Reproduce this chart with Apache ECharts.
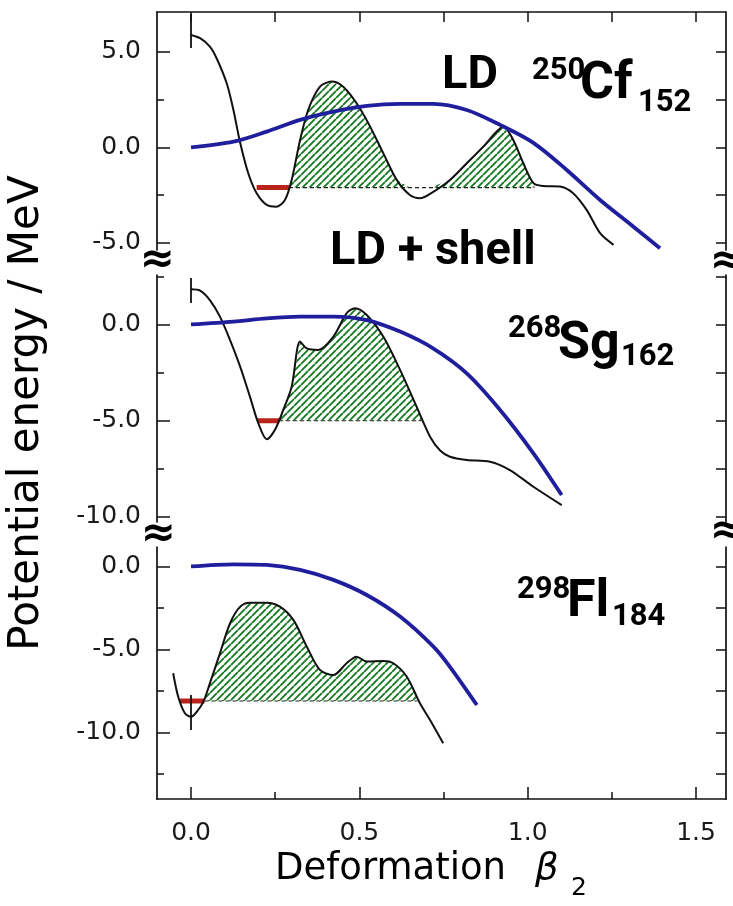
<!DOCTYPE html>
<html><head><meta charset="utf-8">
<script src="https://cdn.jsdelivr.net/npm/echarts@6/dist/echarts.min.js"></script>
<style>html,body{margin:0;padding:0;background:#fff}#c{width:733px;height:906px}</style>
</head><body><div id="c"></div>
<script>
// ---------------- DATA ----------------
// 250Cf152
const cfShellX = [0.0, 0.027, 0.056, 0.076, 0.106, 0.126, 0.146, 0.170, 0.195, 0.225, 0.254, 0.279, 0.299, 0.324, 0.348, 0.383, 0.418, 0.452, 0.492, 0.532, 0.571, 0.611, 0.650, 0.680, 0.710, 0.769, 0.819, 0.868, 0.908, 0.928, 0.957, 0.987, 1.017, 1.046, 1.096, 1.135, 1.175, 1.215, 1.255];
const cfShellE = [5.89, 5.72, 5.28, 4.67, 3.36, 1.96, 0.24, -1.35, -2.40, -3.01, -3.10, -2.75, -1.70, 0.39, 1.96, 3.18, 3.45, 3.18, 2.31, 1.09, -0.30, -1.70, -2.49, -2.66, -2.43, -1.70, -0.83, 0.04, 0.83, 1.09, 0.39, -0.83, -1.87, -2.02, -2.05, -2.40, -3.27, -4.49, -5.10];
const cfLdX = [0, 0.126, 0.225, 0.324, 0.423, 0.522, 0.621, 0.720, 0.819, 0.918, 1.017, 1.116, 1.215, 1.314, 1.393];
const cfLdE = [0, 0.30, 0.83, 1.44, 1.87, 2.17, 2.28, 2.28, 1.96, 1.18, 0.24, -1.18, -2.75, -4.15, -5.28];
const cfGround = -2.1, cfWell = [0.195, 0.291], cfBarrierEnd = 1.02, cfMark = [5.2, 7.0];

// 268Sg162
const sgShellX = [0, 0.027, 0.056, 0.086, 0.116, 0.146, 0.175, 0.200, 0.225, 0.249, 0.274, 0.299, 0.324, 0.344, 0.378, 0.423, 0.462, 0.487, 0.522, 0.571, 0.621, 0.670, 0.710, 0.740, 0.769, 0.819, 0.888, 0.947, 1.017, 1.101];
const sgShellE = [1.83, 1.76, 1.27, 0.41, -0.81, -2.19, -3.75, -5.13, -5.96, -5.48, -4.44, -3.23, -0.89, -1.24, -1.32, -0.63, 0.58, 0.84, 0.49, -0.63, -2.36, -4.27, -5.83, -6.55, -6.87, -7.04, -7.13, -7.56, -8.43, -9.38];
const sgLdX = [0, 0.126, 0.225, 0.324, 0.423, 0.522, 0.621, 0.719, 0.819, 0.918, 1.017, 1.101];
const sgLdE = [0, 0.15, 0.32, 0.41, 0.41, 0.23, -0.37, -1.24, -2.54, -4.44, -6.69, -8.86];
const sgGround = -5.0, sgWell = [0.196, 0.262], sgBarrierEnd = 0.685, sgMark = [1.12, 2.42];

// 298Fl184
const flShellX = [-0.053, -0.038, -0.018, 0.0, 0.017, 0.037, 0.056, 0.086, 0.116, 0.146, 0.175, 0.225, 0.264, 0.304, 0.344, 0.383, 0.423, 0.462, 0.492, 0.522, 0.571, 0.601, 0.641, 0.680, 0.710, 0.749];
const flShellE = [-6.43, -7.84, -8.84, -9.05, -8.75, -8.14, -7.04, -5.23, -3.42, -2.42, -2.18, -2.18, -2.42, -3.22, -4.83, -6.23, -6.54, -5.83, -5.43, -5.73, -5.69, -5.83, -6.64, -8.24, -9.25, -10.65];
const flLdX = [0, 0.126, 0.225, 0.324, 0.423, 0.522, 0.621, 0.720, 0.769, 0.849];
const flLdE = [0, 0.13, 0.09, -0.21, -0.81, -1.72, -3.02, -4.83, -6.04, -8.34];
const flGround = -8.1, flWell = [-0.033, 0.040], flBarrierEnd = 0.672, flMark = [-9.85, -7.74];

// axes / ticks
const xRange = [-0.101, 1.589];
const xMajor = [0, 0.5, 1.0, 1.5];
const xMinor = [0.25, 0.75, 1.25];
const xAll = [0, 0.25, 0.5, 0.75, 1.0, 1.25, 1.5];
const cfRange = [-5.37, 7.09], cfMajor = [-5, 0, 5], cfMinor = [-2.5, 2.5];
const sgRange = [-10.26, 2.57], sgMajor = [-10, -5, 0], sgMinor = [-7.5, -2.5, 2.5];
const flRange = [-14.0, 1.17], flMajor = [-10, -5, 0], flMinor = [-12.5, -7.5, -2.5];

// ---------------- HELPERS ----------------
const zip = (xs, ys) => xs.map((x, i) => [x, ys[i]]);
function interp(xs, ys, x) {
  for (let i = 0; i < xs.length - 1; i++) {
    if (x >= xs[i] && x <= xs[i + 1]) return ys[i] + (ys[i + 1] - ys[i]) * (x - xs[i]) / (xs[i + 1] - xs[i]);
  }
  return ys[ys.length - 1];
}
function hatchPoly(xs, ys, level, from, to) {
  const pts = [[from, level], [from, Math.max(level, interp(xs, ys, from))]];
  xs.forEach((x, i) => { if (x > from && x < to) pts.push([x, Math.max(level, ys[i])]); });
  pts.push([to, Math.max(level, interp(xs, ys, to))]);
  pts.push([to, level]);
  return pts;
}
function makeHatch() {
  const s = 7, c = document.createElement('canvas');
  c.width = s; c.height = s;
  const g = c.getContext('2d');
  g.strokeStyle = '#197a22'; g.lineWidth = 1.9;
  g.beginPath();
  [-s, 0, s].forEach(k => { g.moveTo(k, s); g.lineTo(k + s, 0); });
  g.stroke();
  return c;
}
const hatchPattern = { image: makeHatch(), repeat: 'repeat' };

const AX = '#111';
const tickFont = { fontFamily: 'DejaVu Sans', fontSize: 25, color: '#1a1a1a' };

const grids = [
  { left: 157, right: 7, top: 12, height: 238 },
  { left: 157, right: 7, top: 275, height: 247 },
  { left: 157, right: 7, top: 547, height: 252 }
];

function xAx(grid, opts) {
  return Object.assign({
    type: 'value', gridIndex: grid, min: xRange[0], max: xRange[1],
    splitLine: { show: false },
    axisLine: { show: true, onZero: false, lineStyle: { color: AX, width: 1.7 } },
    axisLabel: { show: false },
    axisTick: { show: false }
  }, opts);
}
const xAxes = [
  xAx(0, { position: 'top', axisTick: { show: true, inside: true, length: 10, customValues: xAll, lineStyle: { color: AX, width: 1.5 } } }),
  xAx(1, { show: false }),
  xAx(2, { position: 'bottom',
    axisTick: { show: true, inside: true, length: 12, customValues: xMajor, lineStyle: { color: AX, width: 1.5 } },
    axisLabel: Object.assign({ show: true, margin: 22, customValues: xMajor, formatter: v => v.toFixed(1) }, tickFont) }),
  xAx(2, { position: 'bottom', axisLine: { show: false, onZero: false },
    axisTick: { show: true, inside: true, length: 7, customValues: xMinor, lineStyle: { color: AX, width: 1.5 } } })
];

const yAxes = [];
[[cfRange, cfMajor, cfMinor], [sgRange, sgMajor, sgMinor], [flRange, flMajor, flMinor]].forEach((p, gi) => {
  const [r, maj, min] = p;
  const base = { type: 'value', gridIndex: gi, min: r[0], max: r[1], splitLine: { show: false } };
  yAxes.push(Object.assign({}, base, { position: 'left',
    axisLine: { show: true, onZero: false, lineStyle: { color: AX, width: 1.7 } },
    axisTick: { show: true, inside: true, length: 13, customValues: maj, lineStyle: { color: AX, width: 1.5 } },
    axisLabel: Object.assign({ show: true, margin: 16, customValues: maj, formatter: v => v.toFixed(1) }, tickFont) }));
  yAxes.push(Object.assign({}, base, { position: 'left',
    axisLine: { show: false, onZero: false },
    axisTick: { show: true, inside: true, length: 7, customValues: min, lineStyle: { color: AX, width: 1.5 } },
    axisLabel: { show: false } }));
  yAxes.push(Object.assign({}, base, { position: 'right',
    axisLine: { show: true, onZero: false, lineStyle: { color: AX, width: 1.7 } },
    axisTick: { show: true, inside: true, length: 10, customValues: maj.concat(min), lineStyle: { color: AX, width: 1.5 } },
    axisLabel: { show: false } }));
});

const panels = [
  { sx: cfShellX, se: cfShellE, lx: cfLdX, le: cfLdE, g: cfGround, well: cfWell, end: cfBarrierEnd, mark: cfMark },
  { sx: sgShellX, se: sgShellE, lx: sgLdX, le: sgLdE, g: sgGround, well: sgWell, end: sgBarrierEnd, mark: sgMark },
  { sx: flShellX, se: flShellE, lx: flLdX, le: flLdE, g: flGround, well: flWell, end: flBarrierEnd, mark: flMark }
];
const xIdx = [0, 1, 2];
const series = [];
panels.forEach((p, i) => {
  const ax = { xAxisIndex: xIdx[i], yAxisIndex: 3 * i };
  const poly = hatchPoly(p.sx, p.se, p.g, p.well[1], p.end);
  series.push(Object.assign({
    type: 'custom', z: 1, silent: true, data: [0],
    renderItem: (params, api) => ({
      type: 'polygon',
      shape: { points: poly.map(pt => api.coord(pt)) },
      style: { fill: hatchPattern, stroke: null }
    })
  }, ax));
  series.push(Object.assign({ type: 'line', z: 2, silent: true, symbol: 'none',
    data: [[p.well[1], p.g], [p.end, p.g]],
    lineStyle: { color: '#222', width: 1.2, type: [4, 3] } }, ax));
  series.push(Object.assign({ type: 'line', z: 3, silent: true, symbol: 'none',
    data: [[p.well[0], p.g], [p.well[1], p.g]],
    lineStyle: { color: '#b8241a', width: 5 } }, ax));
  series.push(Object.assign({ type: 'line', z: 4, silent: true, symbol: 'none',
    data: [[0, p.mark[0]], [0, p.mark[1]]],
    lineStyle: { color: '#111', width: 1.8 } }, ax));
  series.push(Object.assign({ type: 'line', z: 5, silent: true, symbol: 'none', smooth: 0.3,
    data: zip(p.sx, p.se), lineStyle: { color: '#111', width: 2 } }, ax));
  series.push(Object.assign({ type: 'line', z: 6, silent: true, symbol: 'none', smooth: 0.3,
    data: zip(p.lx, p.le), lineStyle: { color: '#1f1f9e', width: 3.8 } }, ax));
});

function txt(x, y, text, size, opt) {
  return { type: 'text', x: x, y: y, z: 100, rotation: (opt && opt.rot) || 0,
    style: Object.assign({ text: text, fill: '#000', fontSize: size, fontFamily: 'Roboto', fontWeight: 'bold',
      align: 'left', verticalAlign: 'middle', textAlign: 'left', textVerticalAlign: 'middle' }, (opt && opt.style) || {}) };
}
const regular = { fontFamily: 'DejaVu Sans', fontWeight: 'normal' };
const brk = { fontFamily: 'DejaVu Sans', fontWeight: 'bold', align: 'center', textAlign: 'center' };
const graphics = [
  txt(442, 76, 'LD', 47),
  txt(330, 252, 'LD + shell', 47),
  txt(532, 71, '250', 31), txt(580, 85, 'Cf', 52), txt(638, 103, '152', 31),
  txt(508, 329, '268', 31), txt(558, 345, 'Sg', 52), txt(621, 357, '162', 31),
  txt(517, 590, '298', 31), txt(567, 603, 'Fl', 52), txt(612, 617, '184', 31),
  txt(275, 869, 'Deformation', 37, { style: regular }),
  txt(535, 869, 'β', 37, { style: Object.assign({ fontStyle: 'italic' }, regular) }),
  txt(571, 888, '2', 25, { style: regular }),
  txt(27, 413, 'Potential energy / MeV', 42, { rot: Math.PI / 2, style: Object.assign({ align: 'center', textAlign: 'center' }, regular) }),
  txt(157, 261, '≈', 42, { style: brk }),
  txt(727, 262, '≈', 42, { style: brk }),
  txt(158, 535, '≈', 42, { style: brk }),
  txt(727, 532, '≈', 42, { style: brk })
];

const chart = echarts.init(document.getElementById('c'), null, { renderer: 'canvas' });
chart.setOption({
  animation: false,
  backgroundColor: '#fff',
  grid: grids,
  xAxis: xAxes,
  yAxis: yAxes,
  series: series,
  graphic: graphics
});
</script>
</body></html>
